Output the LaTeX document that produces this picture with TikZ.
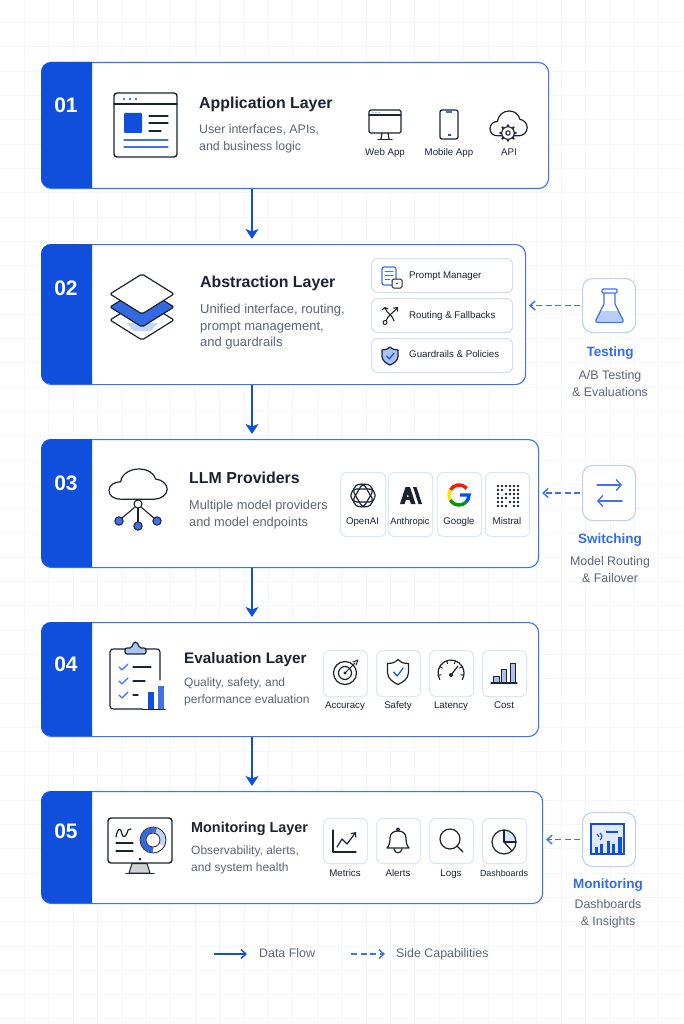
\documentclass[tikz,border=0pt]{standalone}
\usepackage{fontspec}
\setmainfont{Liberation Sans}
\usetikzlibrary{positioning}
\usetikzlibrary{calc}
\usetikzlibrary{arrows.meta}
\definecolor{bandblue}{HTML}{0F4FDC}
\definecolor{lineblue}{HTML}{3D72EC}
\definecolor{softblue}{HTML}{BCD0F6}
\definecolor{cardblue}{HTML}{DDE5F8}
\definecolor{tintblue}{HTML}{A9C3F5}
\definecolor{inkdark}{HTML}{1B2230}
\definecolor{textgray}{HTML}{5C6573}
\definecolor{gridgray}{HTML}{F5F6FC}
\tikzset{>=latex}
\tikzset{
  layerbox/.style={draw=lineblue,line width=1.1pt,fill=white,rounded corners=10pt,anchor=north west,inner sep=0pt},
  numtext/.style={text=white,font=\bfseries\fontsize{21}{21}\selectfont},
  titletext/.style={anchor=west,text=inkdark,font=\bfseries\fontsize{15.9}{15.9}\selectfont,inner sep=0pt,text height=11.5pt,text depth=3.5pt},
  subtext/.style={anchor=west,text=textgray,font=\fontsize{12.4}{12.4}\selectfont,inner sep=0pt,text height=9pt,text depth=3pt},
  smalltext/.style={text=inkdark,font=\fontsize{9.7}{9.7}\selectfont,inner sep=0pt,text height=7pt,text depth=2pt},
  cardbox/.style={draw=cardblue,line width=1.1pt,fill=white,rounded corners=6pt,anchor=north west,inner sep=0pt},
  rowbox/.style={draw=softblue!70,line width=1.1pt,fill=white,rounded corners=6pt,anchor=north west,inner sep=0pt},
  sidebox/.style={draw=softblue,line width=1.1pt,fill=white,rounded corners=10pt,anchor=north west,inner sep=0pt},
  sidehead/.style={text=lineblue!80!bandblue,font=\bfseries\fontsize{13.5}{13.5}\selectfont,inner sep=0pt,text height=10pt,text depth=3pt},
  sidetext/.style={text=textgray,font=\fontsize{12.4}{12.4}\selectfont,inner sep=0pt,text height=9pt,text depth=3pt},
  flow/.style={-{Stealth[length=10pt,width=13pt,inset=2.5pt]},draw=bandblue,line width=1.4pt},
  sideflow/.style={-{Straight Barb[length=5pt,width=9pt]},draw=lineblue,line width=1.4pt,dash pattern=on 6pt off 3.5pt},
  ink/.style={draw=inkdark,line width=1.2pt,line cap=round,line join=round},
  blueink/.style={draw=lineblue,line width=1.2pt,line cap=round,line join=round},
}
\begin{document}
\begin{tikzpicture}[x=1pt,y=-1pt]
\useasboundingbox (0,0) rectangle (683,1024);
\fill[white] (0,0) rectangle (683,1024);

% ---------------- Faint grid ----------------
\foreach \g in {1,...,27}{
  \draw[gridgray,line width=0.7pt] ({24.4*\g},0) -- ({24.4*\g},1024);
}
\foreach \g in {0,...,41}{
  \draw[gridgray,line width=0.7pt] (0,{22.5+24.3*\g}) -- (683,{22.5+24.3*\g});
}

% ---------- Band function ----------
% top y, bottom y
\def\band#1#2{
  \fill[bandblue] (92,#1) -- (51,#1) arc[start angle=270,end angle=180,radius=10]
    -- (41,#2-10) arc[start angle=180,end angle=90,radius=10] -- (92,#2) -- cycle;
}

% ---------- Cloud function ----------
% left x, top y, x scale, y scale
\def\cloudpath#1#2#3#4{
  \begin{scope}[shift={(#1,#2)},xscale=#3,yscale=#4]
    \draw[ink,fill=white]
      (12,45) .. controls (4,45) and (0,39) .. (0,32)
      .. controls (0,24) and (6,19) .. (12,19)
      .. controls (13,8) and (21,0) .. (31,0)
      .. controls (40,0) and (47,7) .. (48,15)
      .. controls (55,16) and (60,23) .. (60,30)
      .. controls (60,38) and (54,45) .. (47,45) -- cycle;
  \end{scope}
}

% ---------- Shield function ----------
% center x, center y, half width, height, fill
\def\shieldicon#1#2#3#4#5{
  \begin{scope}[shift={(#1,#2)}]
    \draw[ink,fill=#5] (0,-#4/2) .. controls (-#3*0.4,-#4*0.36) .. (-#3,-#4*0.34)
      -- (-#3,#4*0.02) .. controls (-#3,#4*0.28) and (-#3*0.4,#4*0.42) .. (0,#4/2)
      .. controls (#3*0.4,#4*0.42) and (#3,#4*0.28) .. (#3,#4*0.02)
      -- (#3,-#4*0.34) .. controls (#3*0.4,-#4*0.36) .. (0,-#4/2) -- cycle;
    \draw[draw=bandblue,line width=1.2pt,line cap=round,line join=round]
      (-#3*0.42,0) -- (-#3*0.08,#4*0.16) -- (#3*0.5,-#4*0.16);
  \end{scope}
}

% ---------------- Layer boxes ----------------
\node[layerbox,minimum width=507pt,minimum height=126pt] (box1) at (41,62) {};
\node[layerbox,minimum width=484pt,minimum height=140pt] (box2) at (41,244) {};
\node[layerbox,minimum width=497pt,minimum height=128pt] (box3) at (41,439) {};
\node[layerbox,minimum width=497pt,minimum height=114pt] (box4) at (41,622) {};
\node[layerbox,minimum width=501pt,minimum height=112pt] (box5) at (41,791) {};
\band{62}{188}
\band{244}{384}
\band{439}{567}
\band{622}{736}
\band{791}{903}

\node[numtext] (num1) at (66,105) {01};
\node[numtext] (num2) at (66,288) {02};
\node[numtext] (num3) at (66,483) {03};
\node[numtext] (num4) at (66,664) {04};
\node[numtext] (num5) at (66,831) {05};

% ---------------- Data flow arrows ----------------
\coordinate (flowx) at (252,0);
\draw[flow,shorten >=5pt] (box1.south -| flowx) -- (box2.north -| flowx);
\draw[flow,shorten >=5pt] (box2.south -| flowx) -- (box3.north -| flowx);
\draw[flow,shorten >=5pt] (box3.south -| flowx) -- (box4.north -| flowx);
\draw[flow,shorten >=5pt] (box4.south -| flowx) -- (box5.north -| flowx);

% ---------------- 01 Application ----------------
\node[titletext] (title1) at (199,105) {Application Layer};
\node[subtext] (sub1a) at (199,131) {User interfaces, APIs,};
\node[subtext] (sub1b) at (199,148) {and business logic};

\draw[ink,line width=1.4pt,rounded corners=3pt] (114,93) rectangle (177,157);
\draw[ink,line width=1.4pt] (114,104) -- (177,104);
\foreach \x in {124,130,136}{ \fill[lineblue] (\x,99) circle (1.4); }
\fill[bandblue,rounded corners=1pt] (124,113) rectangle (142,133);
\draw[ink] (149,116) -- (168,116);
\draw[ink] (149,123) -- (168,123);
\draw[ink] (149,131) -- (161,131);
\draw[blueink] (124,140) -- (168,140);
\draw[blueink] (124,147) -- (168,147);

\draw[ink,rounded corners=1.5pt] (369,110) rectangle (401,133);
\draw[ink] (369,115) -- (401,115);
\foreach \x in {373,376,379}{ \fill[lineblue] (\x,112.5) circle (0.6); }
\draw[ink] (382,133) -- (381,139);
\draw[ink] (388,133) -- (389,139);
\draw[ink] (378,139.5) -- (392,139.5);

\draw[ink,rounded corners=2pt] (440,110) rectangle (458,139);
\fill[lineblue] (446,111) rectangle (452,113);
\fill[bandblue] (447.5,134.5) rectangle (450.5,136);

\cloudpath{490}{111}{0.62}{0.55}
\foreach \a in {0,45,...,315}{
  \fill[inkdark] (508,133) ++(\a:7.6) circle (1.3);
}
\draw[ink,fill=white,line width=1.1pt] (508,133) circle (6.3);
\draw[ink,line width=1.1pt] (508,133) circle (2.2);

\node[smalltext] (lab1a) at (385,153) {Web App};
\node[smalltext] (lab1b) at (449,153) {Mobile App};
\node[smalltext] (lab1c) at (509,153) {API};

% ---------------- 02 Abstraction ----------------
\node[titletext] (title2) at (200,283) {Abstraction Layer};
\node[subtext,font=\fontsize{13}{13}\selectfont] (sub2a) at (200,310) {Unified interface, routing,};
\node[subtext,font=\fontsize{13}{13}\selectfont] (sub2b) at (200,327) {prompt management,};
\node[subtext,font=\fontsize{13}{13}\selectfont] (sub2c) at (200,343) {and guardrails};

\draw[ink,fill=white,rounded corners=2pt] (142,300) -- (174,320) -- (142,340) -- (110,320) -- cycle;
\fill[tintblue!70] (126,323) -- (158,323) -- (150,331) -- (134,331) -- cycle;
\draw[ink,fill=bandblue!85,rounded corners=2pt] (142,287) -- (174,307) -- (142,327) -- (110,307) -- cycle;
\draw[ink,fill=white,rounded corners=2pt] (142,274) -- (174,294) -- (142,314) -- (110,294) -- cycle;

\node[rowbox,minimum width=141pt,minimum height=34pt] (row1) at (371,258) {};
\node[rowbox,minimum width=141pt,minimum height=34pt] (row2) at (371,298) {};
\node[rowbox,minimum width=141pt,minimum height=34pt] (row3) at (371,338) {};
\node[smalltext,anchor=west] (rowlab1) at (409,276) {Prompt Manager};
\node[smalltext,anchor=west] (rowlab2) at (409,316) {Routing \& Fallbacks};
\node[smalltext,anchor=west] (rowlab3) at (409,355) {Guardrails \& Policies};

\draw[blueink,rounded corners=2pt] (382,267) rectangle (396,285);
\draw[blueink,line width=1pt] (385,271) -- (393,271) (385,275) -- (393,275) (385,279) -- (390,279);
\draw[ink,fill=white,line width=1pt,rounded corners=1.5pt] (392,279) rectangle (402,288);
\fill[inkdark] (397,283.5) circle (0.8);

\draw[ink,line width=1.1pt] (385,308) .. controls (387,314) and (393,315) .. (394,321);
\draw[ink,line width=1.1pt,-{Straight Barb[length=3pt,width=5.5pt]}] (386,321) .. controls (388,315) and (392,314) .. (398,307);
\draw[ink,line width=1.1pt] (382,310) -- (385,307.5) -- (388,309);
\draw[ink,line width=1pt] (385,322.5) circle (2);

\shieldicon{390}{356}{8}{18}{tintblue}

\node[sidebox,minimum width=53pt,minimum height=54pt] (side1) at (582,278) {};
\coordinate (side1from) at ([xshift=-2pt]side1.west);
\draw[sideflow] (side1from) -- ([xshift=3pt]box2.east |- side1from);
\fill[tintblue!80] (600,311) -- (619,311) -- (622.5,320) -- (622,322) -- (597,322) -- (596.5,320) -- cycle;
\draw[blueink] (604,293) -- (604,304) -- (596,320) .. controls (595.5,322) .. (598,322.5)
  -- (621,322.5) .. controls (623.5,322) .. (623,320) -- (615,304) -- (615,293);
\draw[blueink,fill=white,rounded corners=1pt] (602,289) rectangle (617,293);
\node[sidehead] (head1) at (610,353) {Testing};
\node[sidetext] (text1a) at (610,376) {A/B Testing};
\node[sidetext] (text1b) at (610,393) {\& Evaluations};

% ---------------- 03 Providers ----------------
\node[titletext] (title3) at (189,479) {LLM Providers};
\node[subtext,font=\fontsize{12.8}{12.8}\selectfont] (sub3a) at (189,506) {Multiple model providers};
\node[subtext,font=\fontsize{12.8}{12.8}\selectfont] (sub3b) at (189,523) {and model endpoints};

\cloudpath{109}{469}{0.97}{0.67}
\draw[ink,line width=1.1pt] (138,504) -- (138,523);
\draw[ink,line width=1.1pt] (135,507) -- (128,513) -- (122,518);
\draw[ink,line width=1.1pt] (141,507) -- (148,513) -- (154,518);
\draw[ink,fill=white,line width=1.1pt] (138,504) circle (4);
\foreach \x/\y in {119/521,138/526,157/521}{
  \draw[ink,fill=lineblue,line width=1pt] (\x,\y) circle (4.2);
}

\node[cardbox,minimum width=45pt,minimum height=64pt] (card1) at (340,472) {};
\node[cardbox,minimum width=44pt,minimum height=64pt] (card2) at (388,472) {};
\node[cardbox,minimum width=44pt,minimum height=64pt] (card3) at (437,472) {};
\node[cardbox,minimum width=44pt,minimum height=64pt] (card4) at (485,472) {};
\node[smalltext] (lab3a) at (362.5,522) {OpenAI};
\node[smalltext,font=\fontsize{9.3}{9.3}\selectfont] (lab3b) at (410,522) {Anthropic};
\node[smalltext] (lab3c) at (459,522) {Google};
\node[smalltext] (lab3d) at (507,522) {Mistral};

% OpenAI knot
\foreach \a in {0,60,120}{
  \draw[ink,rotate around={\a:(363,495.5)},rounded corners=5.5pt]
    (351,489) rectangle (375,502);
}
% Anthropic mark
\fill[inkdark] (400,504) -- (405.5,487) -- (410,487) -- (415.5,504) -- (411,504) -- (407.8,494) -- (404.6,504) -- cycle;
\fill[inkdark] (403.5,497) rectangle (412,500);
\fill[inkdark] (413,487) -- (416.5,487) -- (422,504) -- (418.5,504) -- cycle;
% Google mark
\draw[red!80!orange,line width=3.4pt] (459,495) ++(-40:10) arc[start angle=-40,end angle=-150,radius=10];
\draw[yellow!85!orange,line width=3.4pt] (459,495) ++(-150:10) arc[start angle=-150,end angle=-210,radius=10];
\draw[green!60!black,line width=3.4pt] (459,495) ++(150:10) arc[start angle=150,end angle=45,radius=10];
\draw[blue!70!cyan,line width=3.4pt] (459,495) ++(45:10) arc[start angle=45,end angle=0,radius=10] -- (460,495);

% Mistral dots
\foreach \x/\y in {
  498/486,502/486,506/486,510/486,514/486,518/486,
  498/490,502/490,510/490,514/490,518/490,
  498/494,506/494,510/494,514/494,518/494,
  498/498,502/498,506/498,514/498,518/498,
  498/502,502/502,510/502,514/502,518/502,
  498/506,502/506,506/506,514/506,518/506
}{
  \fill[inkdark] (\x,\y) circle (1.4);
}

\node[sidebox,minimum width=53pt,minimum height=55pt] (side2) at (582,465) {};
\coordinate (side2from) at ([xshift=-2pt]side2.west);
\draw[sideflow] (side2from) -- ([xshift=3pt]box3.east |- side2from);
\draw[blueink,-{Straight Barb[length=5pt,width=11pt]},line width=1.3pt] (597,485) -- (622,485);
\draw[blueink,-{Straight Barb[length=5pt,width=11pt]},line width=1.3pt] (622,501) -- (597,501);
\node[sidehead] (head2) at (610,540) {Switching};
\node[sidetext] (text2a) at (610,562) {Model Routing};
\node[sidetext] (text2b) at (610,579) {\& Failover};

% ---------------- 04 Evaluation ----------------
\node[titletext,font=\bfseries\fontsize{15.3}{15.3}\selectfont] (title4) at (184,659) {Evaluation Layer};
\node[subtext,font=\fontsize{12}{12}\selectfont] (sub4a) at (184,683) {Quality, safety, and};
\node[subtext,font=\fontsize{12}{12}\selectfont] (sub4b) at (184,700) {performance evaluation};

\draw[ink] (142,709) -- (114,709) .. controls (111,709) .. (110,706) -- (110,652)
  .. controls (111,649) .. (114,649) -- (156,649) .. controls (159,649) .. (160,652) -- (160,680);
\draw[ink,fill=tintblue,rounded corners=2pt] (125,654) -- (125,648) -- (132,648) .. controls (133,641) and (138,641) .. (139,648)
  -- (146,648) -- (146,654) -- cycle;
\foreach \y/\e in {667/151,681/145,695/138}{
  \draw[blueink] (119,\y) -- (122,\y+3) -- (128,\y-3);
  \draw[ink] (133,\y) -- (\e,\y);
}
\fill[bandblue] (148,692) rectangle (154,709);
\fill[bandblue!80] (158,686) rectangle (164,709);
\draw[ink] (142,709.5) -- (165,709.5);

\node[cardbox,minimum width=44pt,minimum height=46pt] (card5) at (323,650) {};
\node[cardbox,minimum width=44pt,minimum height=46pt] (card6) at (376,650) {};
\node[cardbox,minimum width=44pt,minimum height=46pt] (card7) at (429,650) {};
\node[cardbox,minimum width=44pt,minimum height=46pt] (card8) at (482,650) {};
\node[smalltext] (lab4a) at (345,706) {Accuracy};
\node[smalltext] (lab4b) at (398,706) {Safety};
\node[smalltext] (lab4c) at (451,706) {Latency};
\node[smalltext] (lab4d) at (504,706) {Cost};

% target
\draw[ink] (345,673) circle (11.5);
\draw[ink] (345,673) circle (6.5);
\fill[inkdark] (345,673) circle (1.6);
\draw[ink,line width=1pt] (345,673) -- (355,663);
\draw[ink,line width=1pt] (353,662) -- (358,660) (356,665) -- (358,660);
% safety
\shieldicon{398}{672}{10.5}{25}{white}
% latency
\draw[ink] (451,673) ++(150:13) arc[start angle=150,end angle=390,radius=13];
\foreach \a in {170,210,250,290,330,10}{
  \draw[ink,line width=1pt] (451,673) ++(\a:13) -- ++(\a:-3);
}
\fill[inkdark] (451,675) circle (2);
\draw[ink] (451,675) -- (458,666);
% cost
\draw[ink,fill=tintblue,line width=1pt] (493.5,683) rectangle (499,676);
\draw[ink,fill=tintblue,line width=1pt] (501,683) rectangle (506,669);
\draw[ink,fill=tintblue,line width=1pt] (510,683) rectangle (515,663);
\draw[ink] (491,683) -- (517,683);

% ---------------- 05 Monitoring ----------------
\node[titletext,font=\bfseries\fontsize{14.4}{14.4}\selectfont] (title5) at (191,828) {Monitoring Layer};
\node[subtext,font=\fontsize{12}{12}\selectfont] (sub5a) at (191,851) {Observability, alerts,};
\node[subtext,font=\fontsize{12}{12}\selectfont] (sub5b) at (191,868) {and system health};

\draw[ink,fill=white,rounded corners=3pt,line width=1.4pt] (108,818) rectangle (172,863);
\draw[ink,fill=gray!35,line width=1pt] (132,863.5) -- (147,863.5) -- (150,873) -- (129,873) -- cycle;
\draw[ink] (126,873.5) -- (154,873.5);
\draw[ink] (116,837) .. controls (118,826) and (121,828) .. (122,834) .. controls (123,838) and (126,838) .. (128,830) -- (131,829);
\draw[ink] (116,843) -- (133,843);
\draw[ink] (116,851) -- (133,851);
\fill[inkdark] (140,859) circle (1.5);
\draw[bandblue!85,line width=5pt] (153,840) ++(-70:10) arc[start angle=-70,end angle=-270,radius=10];
\draw[tintblue!70,line width=5pt] (153,840) ++(-70:10) arc[start angle=-70,end angle=30,radius=10];
\draw[ink,line width=0.8pt] (153,840) circle (13);
\draw[ink,line width=0.8pt] (153,840) circle (7);

\node[cardbox,minimum width=44pt,minimum height=45pt] (card9) at (323,818) {};
\node[cardbox,minimum width=44pt,minimum height=45pt] (card10) at (376,818) {};
\node[cardbox,minimum width=44pt,minimum height=45pt] (card11) at (429,818) {};
\node[cardbox,minimum width=44pt,minimum height=45pt] (card12) at (482,818) {};
\node[smalltext] (lab5a) at (345,874) {Metrics};
\node[smalltext] (lab5b) at (398,874) {Alerts};
\node[smalltext] (lab5c) at (451,874) {Logs};
\node[smalltext,font=\fontsize{8.9}{8.9}\selectfont] (lab5d) at (504,874) {Dashboards};

% metrics
\draw[ink] (333,830) -- (333,852) -- (356,852);
\draw[ink,-{Straight Barb[length=3.5pt,width=6pt]}] (337,847) -- (342,839) -- (347,844) -- (356,832);
% alerts
\draw[ink] (387,848) .. controls (390,845) and (390,840) .. (390,838) .. controls (390,833) and (394,831) .. (398,831)
  .. controls (402,831) and (406,833) .. (406,838) .. controls (406,840) and (406,845) .. (409,848) -- cycle;
\draw[ink] (398,829.5) circle (1.5);
\draw[ink] (394,849) .. controls (395,854) and (401,854) .. (402,849);
% logs
\draw[ink] (450,839) circle (10);
\draw[ink] (457,846) -- (463,852);
% dashboards
\fill[tintblue!40] (504,842) -- (504,830) arc[start angle=-90,end angle=0,radius=12] -- cycle;
\draw[ink] (504,842) circle (12);
\draw[ink] (504,830) -- (504,842) -- (516,842);
\draw[ink] (504,842) -- (512,851);

\node[sidebox,minimum width=53pt,minimum height=54pt] (side3) at (582,812) {};
\coordinate (side3from) at ([xshift=-2pt]side3.west);
\draw[sideflow] (side3from) -- ([xshift=3pt]box5.east |- side3from);
\draw[draw=bandblue,line width=1.5pt,fill=softblue!45] (591,824) rectangle (624,854);
\draw[draw=bandblue,line width=1.1pt] (600,833) arc[start angle=-60,end angle=60,radius=4];
\draw[draw=bandblue,line width=1.1pt] (599,837) -- (597,834);
\draw[draw=bandblue,line width=1.1pt] (606,832) -- (618,832);
\foreach \x/\y/\w in {595/847/3,600/844/3,607/841/3,612/844/3,618/837/4}{
  \fill[bandblue] (\x,\y) rectangle (\x+\w,853);
}
\node[sidehead] (head3) at (608,885) {Monitoring};
\node[sidetext] (text3a) at (608,905) {Dashboards};
\node[sidetext] (text3b) at (608,922) {\& Insights};

% ---------------- Legend ----------------
\coordinate (legflowa) at (214,954);
\coordinate (legflowb) at (247,954);
\coordinate (legsidea) at (351,954);
\coordinate (legsideb) at (385,954);
\draw[draw=bandblue,line width=1.4pt,-{Straight Barb[length=5pt,width=9pt]}] (legflowa) -- (legflowb);
\draw[sideflow] (legsidea) -- (legsideb);
\node[subtext] (legtext1) at (259,954) {Data Flow};
\node[subtext] (legtext2) at (396,954) {Side Capabilities};

\end{tikzpicture}
\end{document}
